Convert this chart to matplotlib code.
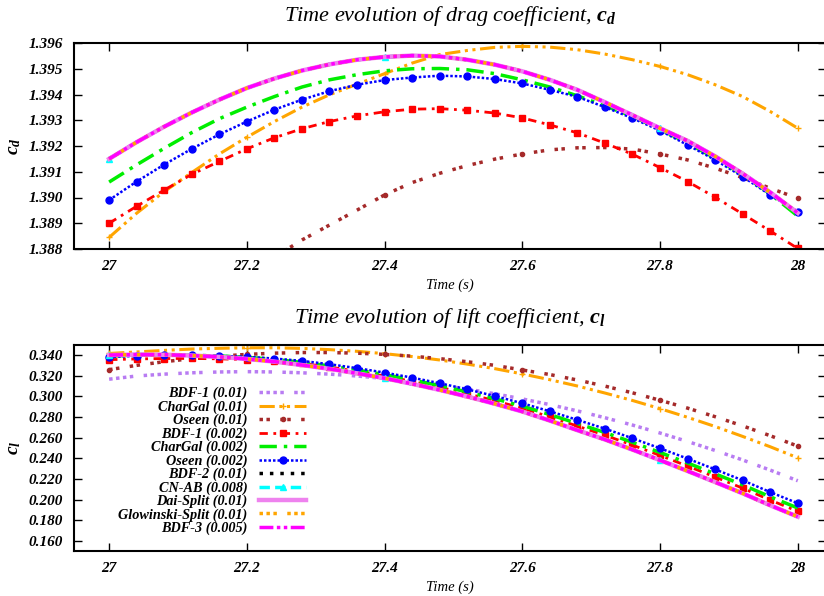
import numpy as np
import matplotlib
matplotlib.use('Agg')
import matplotlib.pyplot as plt
from matplotlib.ticker import FormatStrFormatter

plt.rcParams['font.family'] = 'Liberation Serif'
plt.rcParams['font.weight'] = 'bold'
plt.rcParams['font.style'] = 'italic'
plt.rcParams['mathtext.fontset'] = 'custom'
plt.rcParams['mathtext.it'] = 'Liberation Serif:bold:italic'
plt.rcParams['mathtext.rm'] = 'Liberation Serif:bold:italic'

# sample times (s), every 0.04 s
t = np.linspace(27.0, 28.0, 26)

# drag coefficient readings
cd_chargal_001 = [1.38845, 1.38939, 1.39023, 1.39097, 1.39169, 1.39234, 1.39295, 1.39351, 1.39399,
                  1.39440, 1.39481, 1.39522, 1.39555, 1.39571, 1.39583, 1.39587, 1.39584, 1.39574,
                  1.39557, 1.39535, 1.39509, 1.39477, 1.39438, 1.39392, 1.39334, 1.39269]
cd_oseen_001 = [1.38221, 1.38328, 1.38428, 1.38522, 1.38610, 1.38692, 1.38768, 1.38835, 1.38893,
                1.38951, 1.39010, 1.39058, 1.39094, 1.39124, 1.39149, 1.39169, 1.39185, 1.39193,
                1.39194, 1.39188, 1.39169, 1.39146, 1.39114, 1.39077, 1.39036, 1.38997]
cd_bdf1_0002 = [1.38900, 1.38966, 1.39029, 1.39090, 1.39140, 1.39189, 1.39232, 1.39267, 1.39295,
                1.39317, 1.39333, 1.39343, 1.39345, 1.39339, 1.39328, 1.39309, 1.39282, 1.39251,
                1.39211, 1.39168, 1.39116, 1.39062, 1.39001, 1.38936, 1.38870, 1.38802]
cd_chargal_0002 = [1.39060, 1.39127, 1.39191, 1.39252, 1.39306, 1.39351, 1.39392, 1.39429, 1.39457,
                   1.39477, 1.39492, 1.39500, 1.39501, 1.39496, 1.39481, 1.39457, 1.39429, 1.39395,
                   1.39356, 1.39315, 1.39265, 1.39211, 1.39153, 1.39088, 1.39014, 1.38928]
cd_oseen_0002 = [1.38990, 1.39062, 1.39128, 1.39189, 1.39245, 1.39295, 1.39341, 1.39380, 1.39413,
                 1.39438, 1.39456, 1.39466, 1.39473, 1.39470, 1.39460, 1.39443, 1.39418, 1.39391,
                 1.39351, 1.39308, 1.39260, 1.39204, 1.39146, 1.39081, 1.39010, 1.38945]
cd_fine = [1.39150, 1.39215, 1.39275, 1.39330, 1.39380, 1.39425, 1.39462, 1.39493, 1.39517,
           1.39535, 1.39546, 1.39551, 1.39548, 1.39535, 1.39516, 1.39490, 1.39457, 1.39418,
           1.39370, 1.39320, 1.39269, 1.39220, 1.39160, 1.39093, 1.39020, 1.38940]

# lift coefficient readings
cl_bdf1_001 = [0.3166, 0.3197, 0.3215, 0.3228, 0.3236, 0.3239, 0.3236, 0.3228, 0.3215,
               0.3197, 0.3173, 0.3144, 0.3110, 0.3070, 0.3025, 0.2975, 0.2920, 0.2859,
               0.2793, 0.2722, 0.2645, 0.2563, 0.2476, 0.2384, 0.2286, 0.2183]
cl_chargal_001 = [0.3415, 0.3430, 0.3445, 0.3458, 0.3465, 0.3470, 0.3470, 0.3464, 0.3452,
                  0.3436, 0.3413, 0.3385, 0.3352, 0.3312, 0.3268, 0.3217, 0.3161, 0.3100,
                  0.3032, 0.2960, 0.2881, 0.2797, 0.2708, 0.2612, 0.2512, 0.2405]
cl_oseen_001 = [0.3258, 0.3300, 0.3335, 0.3365, 0.3389, 0.3406, 0.3418, 0.3424, 0.3424,
                0.3418, 0.3406, 0.3389, 0.3365, 0.3335, 0.3300, 0.3255, 0.3211, 0.3158,
                0.3099, 0.3034, 0.2962, 0.2886, 0.2803, 0.2714, 0.2619, 0.2518]
cl_bdf1_0002 = [0.3355, 0.3362, 0.3366, 0.3367, 0.3363, 0.3355, 0.3340, 0.3319, 0.3284,
                0.3243, 0.3197, 0.3145, 0.3088, 0.3026, 0.2958, 0.2885, 0.2801, 0.2712,
                0.2624, 0.2528, 0.2428, 0.2325, 0.2219, 0.2111, 0.1996, 0.1887]
cl_chargal_0002 = [0.3390, 0.3398, 0.3400, 0.3398, 0.3391, 0.3378, 0.3358, 0.3329, 0.3295,
                   0.3255, 0.3211, 0.3160, 0.3104, 0.3043, 0.2977, 0.2905, 0.2823, 0.2737,
                   0.2650, 0.2555, 0.2457, 0.2355, 0.2250, 0.2143, 0.2028, 0.1919]
cl_oseen_0002 = [0.3380, 0.3392, 0.3397, 0.3397, 0.3392, 0.3382, 0.3366, 0.3343, 0.3311,
                 0.3273, 0.3230, 0.3181, 0.3127, 0.3068, 0.3003, 0.2933, 0.2855, 0.2772,
                 0.2687, 0.2594, 0.2497, 0.2397, 0.2293, 0.2187, 0.2073, 0.1965]
cl_fine = [0.3400, 0.3404, 0.3403, 0.3395, 0.3382, 0.3362, 0.3336, 0.3303, 0.3266,
           0.3223, 0.3175, 0.3121, 0.3062, 0.2998, 0.2928, 0.2853, 0.2765, 0.2672,
           0.2582, 0.2484, 0.2382, 0.2277, 0.2170, 0.2061, 0.1945, 0.1835]

labels = ['BDF-1 (0.01)', 'CharGal (0.01)', 'Oseen (0.01)', 'BDF-1 (0.002)', 'CharGal (0.002)',
          'Oseen (0.002)', 'BDF-2 (0.01)', 'CN-AB (0.008)', 'Dai-Split (0.01)',
          'Glowinski-Split (0.01)', 'BDF-3 (0.005)']
cd_data = [None, cd_chargal_001, cd_oseen_001, cd_bdf1_0002, cd_chargal_0002, cd_oseen_0002,
           cd_fine, cd_fine, cd_fine, cd_fine, cd_fine]
cl_data = [cl_bdf1_001, cl_chargal_001, cl_oseen_001, cl_bdf1_0002, cl_chargal_0002, cl_oseen_0002,
           cl_fine, cl_fine, cl_fine, cl_fine, cl_fine]

# gnuplot-like styles: colour, dash, width, marker, markersize, markevery
styles = [
    ('#b87cf2', (0, (1, 1, 1, 1, 1, 1, 1, 3)), 2.5, None, 0, None),
    ('#ffa500', (0, (5, 1.5, 1, 1.5, 1, 1.5)), 2.2, '+', 4, 5),
    ('#a52a2a', (0, (1, 1, 1, 3)), 2.5, 'o', 3, 5),
    ('#ff0000', (0, (3, 2, 1, 2)), 2.0, 's', 5, 1),
    ('#00ee00', (0, (5, 2, 1, 2)), 2.5, None, 0, None),
    ('#0000ff', (0, (1, 0.8)), 1.8, 'o', 5, 1),
    ('#000000', (0, (1, 2)), 2.5, None, 0, None),
    ('#00ffff', (0, (3, 1.5)), 2.5, '^', 4.5, 10),
    ('#ee82ee', '-', 3.2, None, 0, None),
    ('#ffa500', (0, (1, 1, 1, 1, 1, 3)), 2.5, None, 0, None),
    ('#ff00ff', (0, (4, 1, 1, 1, 1, 1)), 2.5, None, 0, None),
]

fig = plt.figure(figsize=(8.24, 5.96), dpi=100)
ax1 = fig.add_axes([74 / 824, 347 / 596, 752 / 824, 206 / 596])
ax2 = fig.add_axes([74 / 824, 45 / 596, 752 / 824, 206 / 596])

for ax, data in ((ax1, cd_data), (ax2, cl_data)):
    for lab, y, (c, ls, lw, mk, ms, me) in zip(labels, data, styles):
        if y is None:
            continue
        ax.plot(t, y, color=c, linestyle=ls, lw=lw, marker=mk, markersize=ms,
                markevery=me, label=lab)
    ax.set_xlim(26.949, 28.041)
    ax.set_xticks([27, 27.2, 27.4, 27.6, 27.8, 28])
    ax.set_xticklabels(['27', '27.2', '27.4', '27.6', '27.8', '28'])
    ax.yaxis.set_major_formatter(FormatStrFormatter('%.3f'))
    ax.tick_params(direction='in', length=6, width=1, top=True, right=True,
                   labelsize=11, pad=8)
    for s in ax.spines.values():
        s.set_linewidth(1.5)
    ax.set_xlabel('Time (s)', fontsize=10.5, labelpad=4)

ax1.set_ylim(1.388, 1.396)
ax1.set_yticks([1.388, 1.389, 1.390, 1.391, 1.392, 1.393, 1.394, 1.395, 1.396])
ax1.set_ylabel('$c_d$', fontsize=14, labelpad=4)
ax1.set_title('Time evolution of drag coefficient, $c_d$', fontsize=16, pad=16)

ax2.set_ylim(0.1503, 0.3497)
ax2.set_yticks([0.16, 0.18, 0.20, 0.22, 0.24, 0.26, 0.28, 0.30, 0.32, 0.34])
ax2.set_ylabel('$c_l$', fontsize=14, labelpad=4)
ax2.set_title('Time evolution of lift coefficient, $c_l$', fontsize=16, pad=16)

ax2.legend(loc='center', bbox_to_anchor=(0.184, 0.437), frameon=False, markerfirst=False,
           fontsize=10.3, handlelength=3.3, handletextpad=0.8, labelspacing=0.0,
           borderpad=0)

fig.savefig('out.png', dpi=100)
